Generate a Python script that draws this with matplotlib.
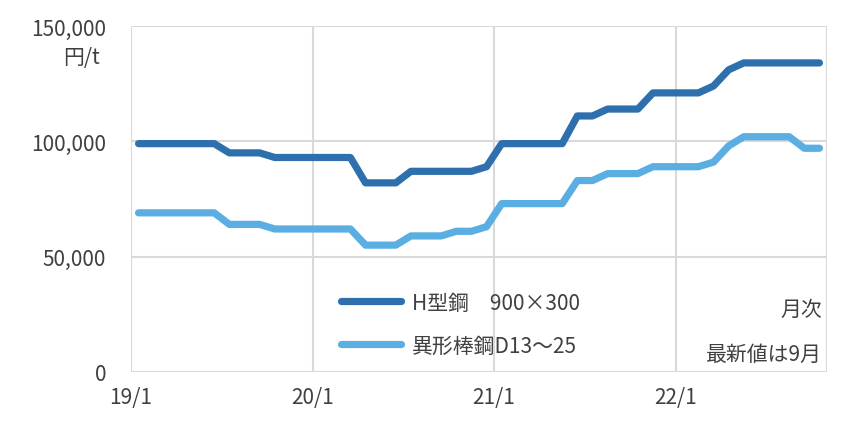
import matplotlib
matplotlib.use("Agg")
import matplotlib.pyplot as plt
import numpy as np

plt.rcParams['font.family'] = ['Noto Sans CJK JP', 'DejaVu Sans']

h_steel = [99,99,99,99,99,99,95,95,95,93,93,93,93,93,93,82,82,82,87,87,87,87,87,89,
           99,99,99,99,99,111,111,114,114,114,121,121,121,121,124,131,134,134,134,134,134,134]
rebar = [69,69,69,69,69,69,64,64,64,62,62,62,62,62,62,55,55,55,59,59,59,61,61,63,
         73,73,73,73,73,83,83,86,86,86,89,89,89,89,91,98,102,102,102,102,97,97]
tick_labels = ['19/1', '20/1', '21/1', '22/1']
tick_idx = [0, 12, 24, 36]

fig = plt.figure(figsize=(8.64, 4.27), dpi=100)
ax = fig.add_axes([131/864, 1-373/427, (827-131)/864, (373-27)/427])
x = np.arange(len(h_steel)) + 0.5
ax.plot(x, np.array(h_steel)*1000, color='#2e6fad', lw=5.2, solid_capstyle='round', solid_joinstyle='round', label='H型鋼\u3000900×300')
ax.plot(x, np.array(rebar)*1000, color='#5aaee2', lw=5.2, solid_capstyle='round', solid_joinstyle='round', label='異形棒鋼D13～25')
ax.set_xlim(0, len(h_steel))
ax.set_ylim(0, 150000)
ax.set_yticks([0, 50000, 100000, 150000])
ax.set_yticklabels(['0', '50,000', '100,000', '150,000'])
ax.grid(True, color='#d9d9d9', lw=1.5)
ax.set_xticks(tick_idx + [46])
ax.set_xticklabels(tick_labels + [''])
ax.tick_params(length=0, labelsize=15, colors='#404040', pad=18)
ax.tick_params(axis='x', pad=10)
for s in ax.spines.values():
    s.set_visible(False)
ax.set_axisbelow(True)
fig.text(100/864, 1-58/427, '円/t', fontsize=15, color='#404040', ha='right', va='center')
fig.text(822/864, 1-310/427, '月次', fontsize=15, color='#404040', ha='right', va='center')
fig.text(822/864, 1-355/427, '最新値は9月', fontsize=15, color='#404040', ha='right', va='center')
ax.legend(loc='upper left', bbox_to_anchor=(322/864, 1-274/427), bbox_transform=fig.transFigure,
          frameon=False, fontsize=15, handlelength=2.9, labelspacing=1.0, handletextpad=0.5,
          labelcolor='#404040')
fig.savefig('out.png', dpi=100)
